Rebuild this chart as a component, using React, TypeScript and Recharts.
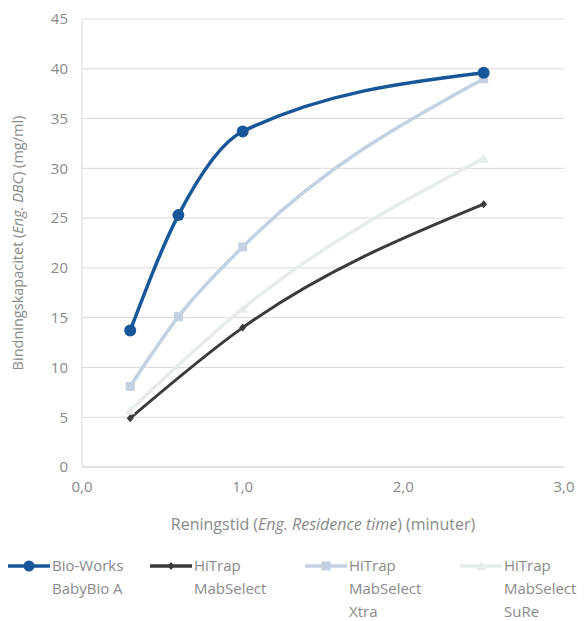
import React from "react";
import { LineChart, Line, XAxis, YAxis, CartesianGrid, Legend } from "recharts";

const bioWorks = [
  { x: 0.3, y: 13.7 },
  { x: 0.6, y: 25.3 },
  { x: 1.0, y: 33.7 },
  { x: 2.5, y: 39.6 },
];
const mabSelect = [
  { x: 0.3, y: 4.9 },
  { x: 1.0, y: 14.0 },
  { x: 2.5, y: 26.4 },
];
const mabSelectXtra = [
  { x: 0.3, y: 8.1 },
  { x: 0.6, y: 15.1 },
  { x: 1.0, y: 22.1 },
  { x: 2.5, y: 39.0 },
];
const mabSelectSuRe = [
  { x: 0.3, y: 5.7 },
  { x: 1.0, y: 15.9 },
  { x: 2.5, y: 31.0 },
];
const xTicks = [0, 1, 2, 3];
const yTicks = [0, 5, 10, 15, 20, 25, 30, 35, 40, 45];

const C_BIO = "#18569a";
const C_MAB = "#3b3b3b";
const C_XTRA = "#c3d1e3";
const C_SURE = "#e6ecea";
const FONT = "'Open Sans', sans-serif";
const TXT = "#8a8a8a";

const Circle = (p: any) => <circle key={p.index} cx={p.cx} cy={p.cy} r={6} fill={C_BIO} />;
const Diamond = (p: any) => (
  <path key={p.index} d={`M${p.cx},${p.cy - 4}L${p.cx + 3.5},${p.cy}L${p.cx},${p.cy + 4}L${p.cx - 3.5},${p.cy}Z`} fill={C_MAB} />
);
const Square = (p: any) => <rect key={p.index} x={p.cx - 4.5} y={p.cy - 4.5} width={9} height={9} fill={C_XTRA} />;
const Triangle = (p: any) => (
  <path key={p.index} d={`M${p.cx},${p.cy - 5}L${p.cx + 5},${p.cy + 4}L${p.cx - 5},${p.cy + 4}Z`} fill={C_SURE} />
);

const legendItems = [
  { color: C_BIO, lines: ["Bio-Works", "BabyBio A"], marker: "circle", left: 8 },
  { color: C_MAB, lines: ["HiTrap", "MabSelect"], marker: "diamond", left: 150 },
  { color: C_XTRA, lines: ["HiTrap", "MabSelect", "Xtra"], marker: "square", left: 305 },
  { color: C_SURE, lines: ["HiTrap", "MabSelect", "SuRe"], marker: "triangle", left: 460 },
];

const LegendIcon = ({ color, marker }: { color: string; marker: string }) => (
  <svg width={42} height={12} style={{ position: "absolute", left: 0, top: 20 }}>
    <line x1={0} y1={6} x2={42} y2={6} stroke={color} strokeWidth={3.5} />
    {marker === "circle" && <circle cx={21} cy={6} r={5.5} fill={color} />}
    {marker === "diamond" && <path d="M21,2L24.5,6L21,10L17.5,6Z" fill={color} />}
    {marker === "square" && <rect x={16.5} y={1.5} width={9} height={9} fill={color} />}
    {marker === "triangle" && <path d="M21,1L26,10L16,10Z" fill={color} />}
  </svg>
);

const renderLegend = () => (
  <div style={{ position: "relative", width: 585, height: 81, fontFamily: FONT, fontSize: 15, color: TXT }}>
    {legendItems.map((it) => (
      <div key={it.left} style={{ position: "absolute", left: it.left, top: 0 }}>
        <LegendIcon color={it.color} marker={it.marker} />
        <div style={{ position: "absolute", left: 44, top: 14, lineHeight: "23px", whiteSpace: "nowrap" }}>
          {it.lines.map((l) => (
            <div key={l}>{l}</div>
          ))}
        </div>
      </div>
    ))}
  </div>
);

const YLabel = (props: any) => {
  const vb = props.viewBox || {};
  const cy = vb.y + vb.height / 2;
  const x = 17;
  return (
    <text
      x={x}
      y={cy}
      transform={`rotate(-90, ${x}, ${cy})`}
      textAnchor="middle"
      dominantBaseline="central"
      fill={TXT}
      fontFamily={FONT}
      fontSize={14.5}
    >
      Bindningskapacitet (<tspan fontStyle="italic">Eng. DBC</tspan>) (mg/ml)
    </text>
  );
};

const XLabel = (props: any) => {
  const vb = props.viewBox || {};
  const cx = vb.x + vb.width / 2;
  return (
    <text x={cx} y={524} textAnchor="middle" dominantBaseline="central" fill={TXT} fontFamily={FONT} fontSize={16}>
      Reningstid (<tspan fontStyle="italic">Eng. Residence time</tspan>) (minuter)
    </text>
  );
};

export default function App() {
  return (
    <div style={{ position: "absolute", left: 0, top: 0, width: 585, height: 621, background: "#fff" }}>
      <LineChart width={585} height={621} margin={{ top: 19, right: 21, bottom: 0, left: 0 }}>
        <CartesianGrid vertical={false} stroke="#d9d9d9" strokeWidth={1} />
        <XAxis
          type="number"
          dataKey="x"
          domain={[0, 3]}
          ticks={xTicks}
          tickFormatter={(v: number) => v.toFixed(1).replace(".", ",")}
          axisLine={{ stroke: "#d9d9d9" }}
          tickLine={false}
          tick={{ fill: TXT, fontSize: 15, fontFamily: FONT }}
          tickMargin={8}
          height={73}
          label={<XLabel />}
        />
        <YAxis
          type="number"
          domain={[0, 45]}
          ticks={yTicks}
          axisLine={{ stroke: "#d9d9d9" }}
          tickLine={false}
          tick={{ fill: TXT, fontSize: 15, fontFamily: FONT }}
          tickMargin={8}
          width={82}
          label={<YLabel />}
        />
        <Legend verticalAlign="bottom" content={renderLegend} wrapperStyle={{ height: 81 }} />
        <Line data={mabSelectSuRe} dataKey="y" type="monotone" stroke={C_SURE} strokeWidth={3.5} dot={Triangle} isAnimationActive={false} />
        <Line data={mabSelectXtra} dataKey="y" type="monotone" stroke={C_XTRA} strokeWidth={3.5} dot={Square} isAnimationActive={false} />
        <Line data={mabSelect} dataKey="y" type="monotone" stroke={C_MAB} strokeWidth={3} dot={Diamond} isAnimationActive={false} />
        <Line data={bioWorks} dataKey="y" type="monotone" stroke={C_BIO} strokeWidth={3.5} dot={Circle} isAnimationActive={false} />
      </LineChart>
    </div>
  );
}
